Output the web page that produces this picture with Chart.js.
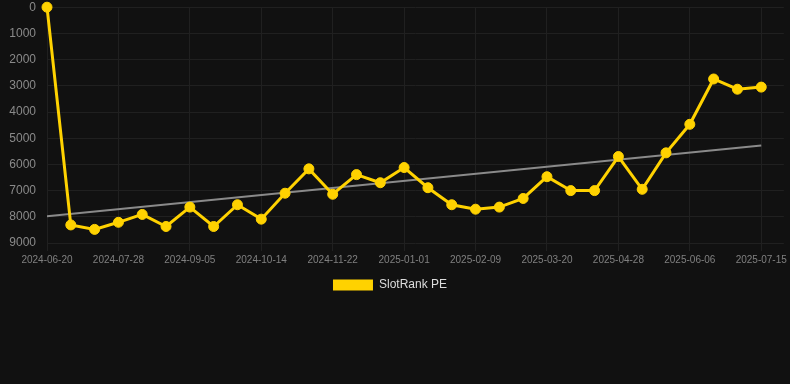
<!DOCTYPE html>
<html>
<head>
<meta charset="utf-8">
<script src="https://cdn.jsdelivr.net/npm/chart.js@4/dist/chart.umd.min.js"></script>
<style>
  html, body { margin: 0; padding: 0; background: #111111; }
  #wrap { position: relative; width: 790px; height: 301px; }
</style>
</head>
<body>
<div id="wrap"><canvas id="rankChart"></canvas></div>
<script>
const dates = [
  "2024-06-20", "2024-07-03", "2024-07-15", "2024-07-28", "2024-08-10", "2024-08-23",
  "2024-09-05", "2024-09-18", "2024-10-01", "2024-10-14", "2024-10-27", "2024-11-09",
  "2024-11-22", "2024-12-05", "2024-12-18", "2025-01-01", "2025-01-14", "2025-01-27",
  "2025-02-09", "2025-02-22", "2025-03-07", "2025-03-20", "2025-04-02", "2025-04-15",
  "2025-04-28", "2025-05-11", "2025-05-24", "2025-06-06", "2025-06-19", "2025-07-02",
  "2025-07-15"
];
const peRanks = [
  0, 8310, 8480, 8210, 7910, 8370, 7630, 8370, 7540, 8090, 7100,
  6170, 7140, 6390, 6700, 6120, 6890, 7540, 7710, 7630, 7300,
  6470, 7000, 7000, 5700, 6950, 5560, 4470, 2740, 3130, 3050
];
const trendEnds = [7980, 5280];
const yTicks = [0, 1000, 2000, 3000, 4000, 5000, 6000, 7000, 8000, 9000];

const ctx = document.getElementById("rankChart").getContext("2d");
new Chart(ctx, {
  type: "line",
  data: {
    datasets: [
      {
        label: "SlotRank PE",
        data: peRanks.map((v, i) => ({ x: i, y: v })),
        borderColor: "#ffd200",
        backgroundColor: "#ffd200",
        borderWidth: 3,
        pointRadius: 5,
        pointBorderWidth: 1,
        pointBackgroundColor: "#ffd200",
        pointBorderColor: "#ffd200",
        tension: 0,
        clip: false,
      },
      {
        label: "trend",
        data: [{ x: 0, y: trendEnds[0] }, { x: dates.length - 1, y: trendEnds[1] }],
        borderColor: "#8a8a8a",
        borderWidth: 2,
        pointRadius: 0,
        tension: 0,
      }
    ]
  },
  options: {
    responsive: true,
    maintainAspectRatio: false,
    animation: false,
    scales: {
      x: {
        type: "linear",
        min: 0,
        max: 30.95,
        afterBuildTicks: (axis) => {
          axis.ticks = dates.map((d, i) => ({ value: i })).filter(t => t.value % 3 === 0);
        },
        ticks: {
          color: "#808080",
          font: { size: 10 },
          maxRotation: 0,
          autoSkip: false,
          callback: (v) => dates[v] || "",
        },
        grid: { color: "#202020", tickColor: "#202020" },
        border: { display: false },
      },
      y: {
        reverse: true,
        min: 0,
        max: 9000,
        afterBuildTicks: (axis) => {
          axis.ticks = yTicks.map(v => ({ value: v }));
        },
        afterFit: (axis) => { axis.width = 47; },
        ticks: { color: "#8a8a8a", font: { size: 12, lineHeight: 0.7 }, callback: (v) => String(v) },
        grid: { color: "#202020", tickColor: "transparent" },
        border: { display: false },
      }
    },
    plugins: {
      legend: {
        position: "bottom",
        labels: {
          color: "#dddddd",
          font: { size: 12 },
          boxWidth: 40,
          boxHeight: 11,
          filter: (item) => item.datasetIndex === 0,
          generateLabels: (chart) =>
            Chart.defaults.plugins.legend.labels.generateLabels(chart)
              .map(l => ({ ...l, lineWidth: 0, text: l.text + "   " })),
        }
      },
      tooltip: { enabled: false }
    }
  }
});
</script>
</body>
</html>
